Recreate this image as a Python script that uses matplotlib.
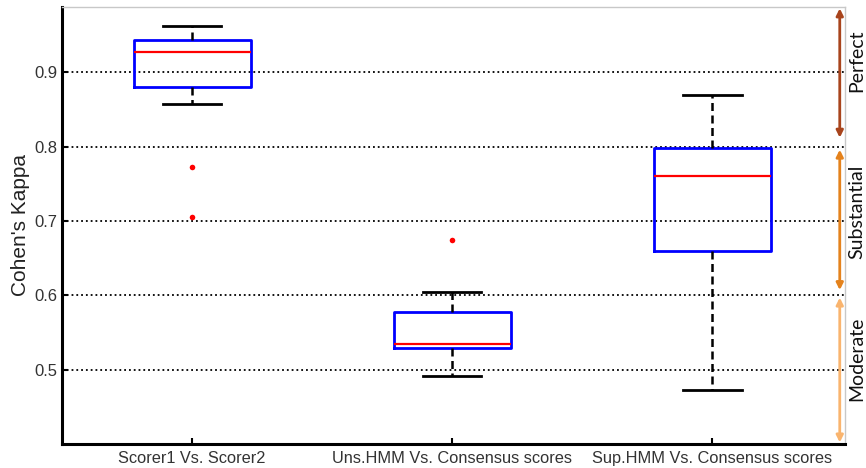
import numpy as np
import matplotlib.pyplot as plt

plt.rcParams['font.family'] = ['Liberation Sans', 'DejaVu Sans']

labels = ['Scorer1 Vs. Scorer2', 'Uns.HMM Vs. Consensus scores', 'Sup.HMM Vs. Consensus scores']
medians = [0.927, 0.535, 0.761]
q1 = [0.880, 0.529, 0.660]
q3 = [0.943, 0.578, 0.798]
whislo = [0.857, 0.491, 0.473]
whishi = [0.962, 0.604, 0.869]
fliers = [[0.772, 0.706], [0.675], []]

zones = ['Perfect', 'Substantial', 'Moderate']
zone_lo = [0.812, 0.607, 0.402]
zone_hi = [0.986, 0.796, 0.597]
zone_text_y = [0.915, 0.712, 0.515]
zone_colors = ['#A8441C', '#E4821C', '#F9B46E']

stats = []
for i in range(len(labels)):
    stats.append(dict(med=medians[i], q1=q1[i], q3=q3[i], whislo=whislo[i],
                      whishi=whishi[i], fliers=fliers[i], label=labels[i]))

fig = plt.figure(figsize=(8.66, 4.68), dpi=100)
ax = fig.add_axes([0.0716, 0.0513, 0.9041, 0.934])

ax.bxp(stats, positions=[1, 2, 3], widths=0.45,
       boxprops=dict(color='#0000FF', linewidth=2),
       medianprops=dict(color='#FF0000', linewidth=1.6),
       whiskerprops=dict(color='black', linewidth=1.8, linestyle=(0, (3.2, 1.8))),
       capprops=dict(color='black', linewidth=2),
       flierprops=dict(marker='o', markerfacecolor='#FF0000', markeredgecolor='none', markersize=4))

ax.set_xlim(0.5, 3.51)
ax.set_ylim(0.4, 0.988)
ax.set_yticks([0.5, 0.6, 0.7, 0.8, 0.9])
ax.set_yticklabels(['0.5', '0.6', '0.7', '0.8', '0.9'])
ax.yaxis.grid(True, color='black', linestyle=':', linewidth=1.3)
ax.set_axisbelow(True)
ax.tick_params(direction='in', length=4, width=1.5, labelsize=12, labelcolor='#333333')
ax.tick_params(axis='x', labelsize=11.8, pad=5)
ax.set_ylabel("Cohen's Kappa", fontsize=15, color='#222222', labelpad=3)

for side in ['left', 'bottom']:
    ax.spines[side].set_linewidth(2.2)
    ax.spines[side].set_color('black')
for side in ['top', 'right']:
    ax.spines[side].set_linewidth(1)
    ax.spines[side].set_color('#C8C8C8')

for name, lo, hi, ty, col in zip(zones, zone_lo, zone_hi, zone_text_y, zone_colors):
    ax.annotate('', xy=(3.49, hi), xytext=(3.49, lo),
                arrowprops=dict(arrowstyle='<|-|>', color=col, lw=2,
                                mutation_scale=10, shrinkA=0, shrinkB=0),
                annotation_clip=False)
    ax.text(1.004, ty, name, transform=ax.get_yaxis_transform(),
            rotation=90, ha='left', va='center', fontsize=14,
            family=['Lato', 'DejaVu Sans'], color='#111111')

fig.savefig('out.png', dpi=100)
